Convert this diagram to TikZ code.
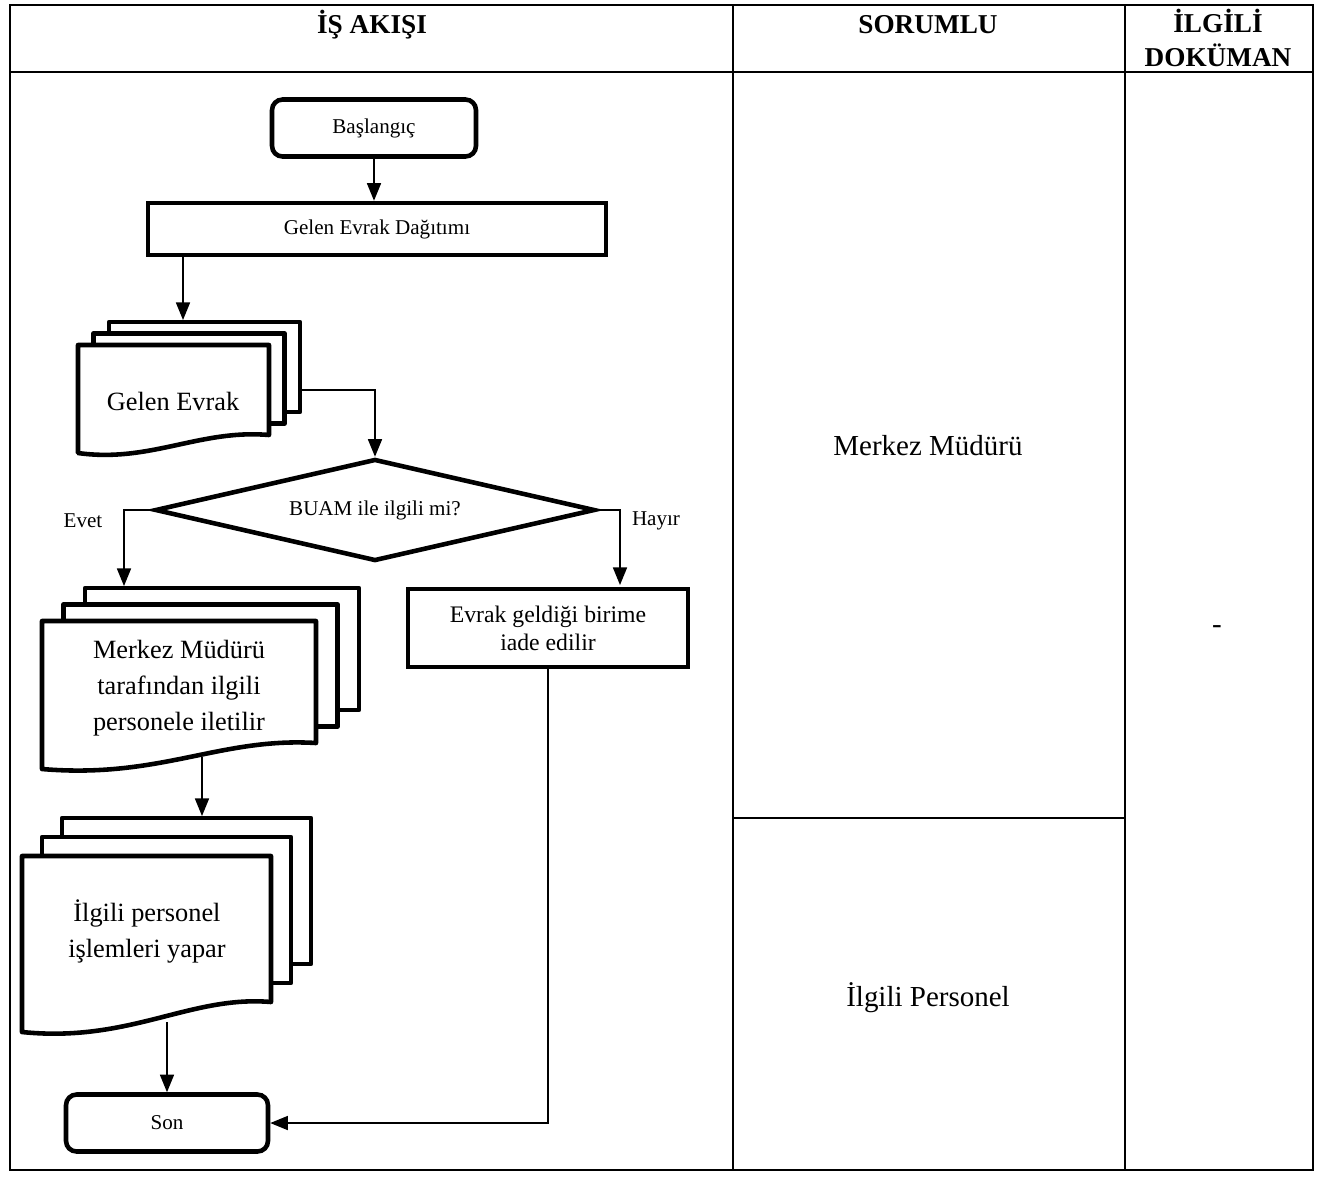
\documentclass[tikz,border=0pt]{standalone}
\usepackage{fontspec}
\setmainfont{Liberation Serif}
\usetikzlibrary{arrows.meta,shapes.geometric}

\tikzset{
	tablo/.style={line width=1.1pt},
	baslik/.style={font=\bfseries\fontsize{15.5}{19.5}\selectfont, align=center, inner sep=0pt},
	kutu/.style={draw, line width=2.6pt, fill=white, inner sep=0pt, align=center, font=\fontsize{12}{15}\selectfont},
	uckutu/.style={kutu, rounded corners=6pt},
	karar/.style={kutu, shape=diamond, aspect=4.3},
	sayfa/.style={draw, line width=2.6pt, fill=white, line join=round},
	buyuk/.style={align=center, inner sep=0pt, font=\fontsize{15}{20.5}\selectfont},
	sutun/.style={inner sep=0pt, font=\fontsize{16.5}{20}\selectfont},
	etiket/.style={inner sep=0pt, font=\fontsize{12}{14}\selectfont},
	ok/.style={-{Triangle[length=10pt,width=8pt]}, line width=0.8pt}
}

\begin{document}
\begin{tikzpicture}[x=0.02cm,y=-0.02cm]
	\useasboundingbox (0,0) rectangle (1331,1178);
	% tablo
	\draw[tablo] (10,5) rectangle (1313,1170);
	\draw[tablo] (10,72) -- (1313,72);
	\foreach \x in {733,1125}
	{
		\draw[tablo] (\x,5) -- (\x,1170);
	}
	\draw[tablo] (733,818) -- (1125,818);
	\node[baslik] (isakisi) at (372,25) {İŞ AKIŞI};
	\node[baslik] (sorumlu) at (928,25) {SORUMLU};
	\node[baslik] (dokuman) at (1218,38) {İLGİLİ\\DOKÜMAN};
	\node[sutun] (mudur) at (928,446) {Merkez Müdürü};
	\node[sutun] (personel) at (928,998) {İlgili Personel};
	\node[sutun] (bos) at (1217,630) {-};

	% akis
	\node[uckutu, minimum width=4.08cm, minimum height=1.14cm] (basla) at (374,128) {Başlangıç};
	\node[kutu, minimum width=9.16cm, minimum height=1.04cm] (dagitim) at (377,229) {Gelen Evrak Dağıtımı};
	% gelen evrak
	\foreach \k in {2,1}
	{
		\draw[sayfa] ({78+\k*15.5},{345-\k*11.5}) rectangle ({269+\k*15.5},{435-\k*11.5});
	}
	\draw[sayfa] (78,453) -- (78,345) -- (269,345) -- (269,435) .. controls (200,429) and (150,463) .. (78,453) -- cycle;
	\node[buyuk] (gelen) at (173,401) {Gelen Evrak};
	\coordinate (gelenust) at (183,320);
	\coordinate (gelencikis) at (300,390);

	\node[karar, minimum width=8.8cm, minimum height=2.04cm] (karar) at (375,510) {BUAM ile ilgili mi?};
	\node[etiket] (evet) at (83,521) {Evet};
	\node[etiket] (hayir) at (656,521) {Hayır};
	\node[kutu, minimum width=5.6cm, minimum height=1.56cm, font=\fontsize{13.5}{16}\selectfont] (iade) at (548,628) {Evrak geldiği birime\\iade edilir};
	\coordinate (iadegiris) at (620,585);

	% merkez muduru
	\foreach \k in {2,1}
	{
		\draw[sayfa] ({42+\k*21.5},{621-\k*16.5}) rectangle ({316+\k*21.5},{743-\k*16.5});
	}
	\draw[sayfa] (42,769) -- (42,621) -- (316,621) -- (316,743) .. controls (220,737) and (160,779) .. (42,769) -- cycle;
	\node[buyuk] (merkez) at (179,688) {Merkez Müdürü\\tarafından ilgili\\personele iletilir};
	\coordinate (merkezust) at (124,586);
	\coordinate (merkezalt) at (202,757);

	% ilgili personel
	\foreach \k in {2,1}
	{
		\draw[sayfa] ({22+\k*20},{856-\k*19}) rectangle ({271+\k*20},{1002-\k*19});
	}
	\draw[sayfa] (22,1032) -- (22,856) -- (271,856) -- (271,1002) .. controls (190,995) and (130,1043) .. (22,1032) -- cycle;
	\node[buyuk] (ilgili) at (147,931) {İlgili personel\\işlemleri yapar};
	\coordinate (ilgiliust) at (202,816);
	\coordinate (ilgilialt) at (167,1022);

	\node[uckutu, minimum width=4.04cm, minimum height=1.14cm] (son) at (167,1123) {Son};

	% baglantilar
	\draw[ok] (basla.south) -- (basla.south |- dagitim.north);
	\draw[ok] (dagitim.south -| gelenust) -- (gelenust);
	\draw[ok] (gelencikis) -| (karar.north);
	\draw[ok] (karar.west) -| (merkezust);
	\draw[ok] (karar.east) -| (iadegiris);
	\draw[ok] (merkezalt) -- (ilgiliust);
	\draw[ok] (ilgilialt) -- (son.north);
	\draw[ok] (iade.south) |- (son.east);
\end{tikzpicture}
\end{document}
